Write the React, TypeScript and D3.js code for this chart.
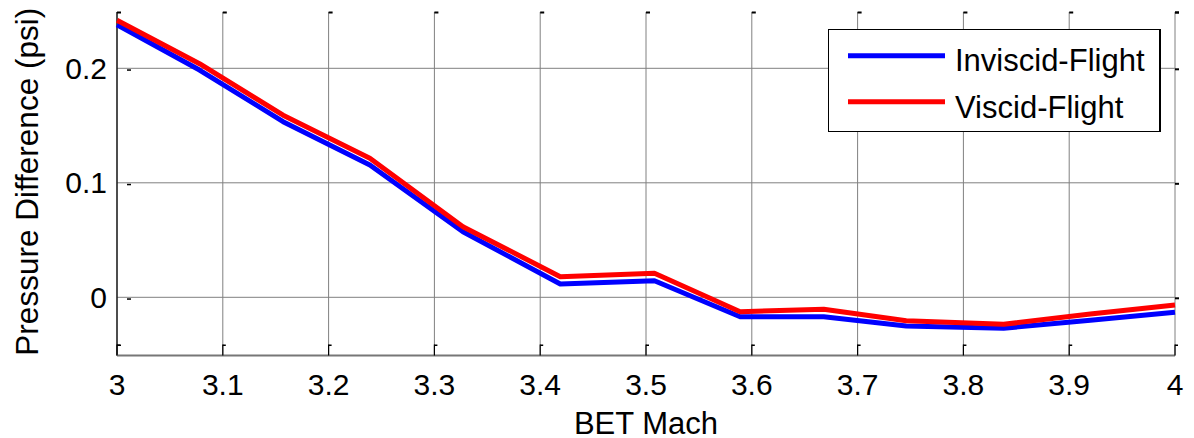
import React from "react";
import * as d3 from "d3";

// BET Mach sweep and pressure difference (psi) for both flight solutions
const machValues = [3.0, 3.078, 3.157, 3.239, 3.327, 3.419, 3.508, 3.589, 3.668, 3.746, 3.838, 3.92, 4.0];
const inviscidFlight = [0.238, 0.1985, 0.1534, 0.1155, 0.0573, 0.0116, 0.0145, -0.017, -0.017, -0.025, -0.027, -0.0201, -0.013];
const viscidFlight = [0.242, 0.204, 0.159, 0.1214, 0.0617, 0.018, 0.021, -0.0126, -0.0105, -0.0204, -0.0236, -0.0146, -0.0067];

const xTicks = [3, 3.1, 3.2, 3.3, 3.4, 3.5, 3.6, 3.7, 3.8, 3.9, 4];
const xTickLabels = ["3", "3.1", "3.2", "3.3", "3.4", "3.5", "3.6", "3.7", "3.8", "3.9", "4"];
const yTicks = [0, 0.1, 0.2];
const yTickLabels = ["0", "0.1", "0.2"];

const seriesNames = ["Inviscid-Flight", "Viscid-Flight"];
const seriesColors = ["#0000ff", "#ff0000"];

const W = 1194;
const H = 438;
const FONT = "'Liberation Sans', Arial, Helvetica, sans-serif";

export default function App() {
  const x = d3.scaleLinear().domain([3, 4]).range([117, 1175]);
  const y = d3.scaleLinear().domain([-0.05, 0.25]).range([354.55, 11.05]);

  const left = x(3);
  const right = x(4);
  const top = 12;
  const bottom = 355.5;

  const line = d3
    .line<[number, number]>()
    .x((d) => x(d[0]))
    .y((d) => y(d[1]))
    .curve(d3.curveLinear);

  const series = [inviscidFlight, viscidFlight].map((vals) =>
    machValues.map((m, i) => [m, vals[i]] as [number, number])
  );

  return (
    <svg
      width={W}
      height={H}
      style={{ position: "fixed", left: 0, top: 0, background: "#fff" }}
      fontFamily={FONT}
    >
      <rect x={0} y={0} width={W} height={H} fill="#fff" />

      {/* grid */}
      {xTicks.map((t) => (
        <line key={"gx" + t} x1={x(t)} x2={x(t)} y1={top} y2={bottom} stroke="#808080" strokeWidth={1} />
      ))}
      {yTicks.map((t) => (
        <line key={"gy" + t} x1={left} x2={right} y1={y(t)} y2={y(t)} stroke="#808080" strokeWidth={1} />
      ))}

      {/* axes */}
      <line x1={left} x2={left} y1={top} y2={bottom} stroke="#000" strokeWidth={1.2} />
      <line x1={left} x2={right} y1={bottom} y2={bottom} stroke="#777" strokeWidth={2} />

      {/* tick marks */}
      {xTicks.map((t) => (
        <g key={"tx" + t}>
          <rect x={x(t)} y={top - 0.5} width={4} height={2} fill="#000" />
          <line x1={x(t)} x2={x(t)} y1={bottom - 11} y2={bottom} stroke="#000" strokeWidth={1.2} />
          <rect x={x(t)} y={bottom - 11} width={3} height={1.5} fill="#000" />
        </g>
      ))}
      {yTicks.map((t) => (
        <g key={"ty" + t}>
          <rect x={left + 10} y={y(t) + 1} width={4} height={1.5} fill="#000" />
          <rect x={right} y={y(t)} width={4} height={2} fill="#000" />
        </g>
      ))}
      <rect x={left} y={bottom - 11} width={4} height={1.5} fill="#000" />
      <rect x={right} y={top - 0.5} width={4} height={2} fill="#000" />

      {/* series */}
      {series.map((pts, i) => (
        <path
          key={seriesNames[i]}
          d={line(pts) || ""}
          fill="none"
          stroke={seriesColors[i]}
          strokeWidth={5}
          strokeLinejoin="round"
        />
      ))}

      {/* tick labels */}
      {xTicks.map((t, i) => (
        <text key={"lx" + t} x={x(t)} y={395} fontSize={30} textAnchor="middle" fill="#000">
          {xTickLabels[i]}
        </text>
      ))}
      {yTicks.map((t, i) => (
        <text
          key={"ly" + t}
          x={107}
          y={y(t)}
          fontSize={30}
          textAnchor="end"
          dominantBaseline="central"
          fill="#000"
        >
          {yTickLabels[i]}
        </text>
      ))}

      {/* axis titles */}
      <text x={(left + right) / 2} y={434} fontSize={31} textAnchor="middle" fill="#000">
        BET Mach
      </text>
      <text
        transform={`translate(38,${(top + bottom) / 2 - 2}) rotate(-90)`}
        fontSize={31.5}
        textAnchor="middle"
        fill="#000"
      >
        Pressure Difference (psi)
      </text>

      {/* legend */}
      <g>
        <rect x={828.5} y={29.5} width={331} height={102} fill="#fff" stroke="#000" strokeWidth={1} />
        <line x1={1160} x2={1160} y1={29} y2={132} stroke="#000" strokeWidth={2} />
        {seriesNames.map((name, i) => {
          const ly = 55.7 + i * 46;
          return (
            <g key={"leg" + name}>
              <line x1={848} x2={945} y1={ly} y2={ly} stroke={seriesColors[i]} strokeWidth={5} />
              <text x={955} y={71 + i * 47} fontSize={31} fill="#000">
                {name}
              </text>
            </g>
          );
        })}
      </g>
    </svg>
  );
}
